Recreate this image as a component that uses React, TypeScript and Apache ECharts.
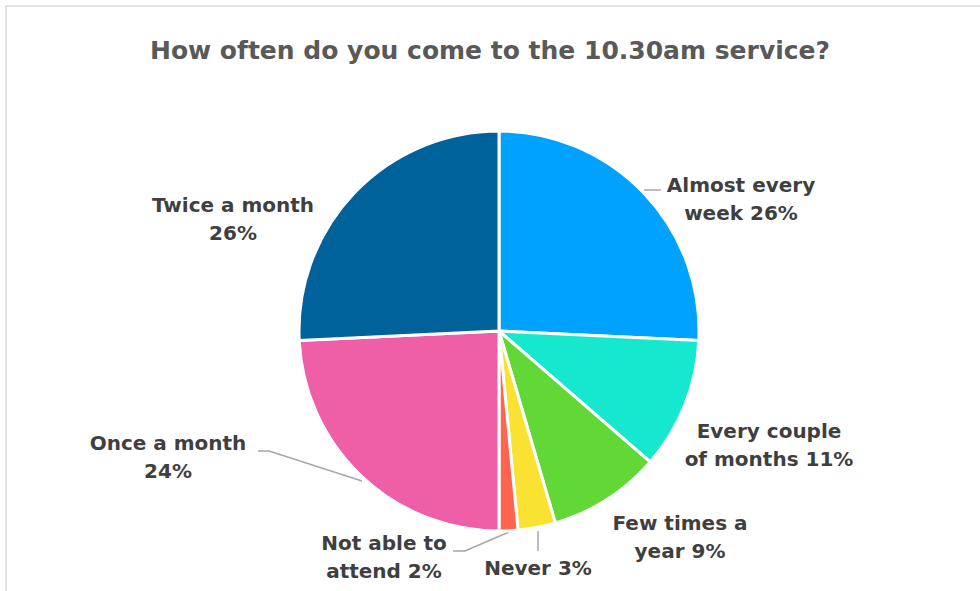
import React, { useEffect, useRef } from "react";
import * as echarts from "echarts";

const TITLE = "How often do you come to the 10.30am service?";
const categories = [
  "Almost every week",
  "Every couple of months",
  "Few times a year",
  "Never",
  "Not able to attend",
  "Once a month",
  "Twice a month",
];
// respondent counts (percentages shown in labels are derived from these)
const counts = [17, 7, 6, 2, 1, 16, 17];
const labelTemplates = [
  "Almost every\nweek {p}%",
  "Every couple\nof months {p}%",
  "Few times a\nyear {p}%",
  "Never {p}%",
  "Not able to\nattend {p}%",
  "Once a month\n{p}%",
  "Twice a month\n{p}%",
];
const colors = ["#00A2FF", "#16E7CF", "#61D836", "#FAE232", "#FF644E", "#EF5FA7", "#00629B"];

// label placement (layout, not data): centre x, centre y of text block, leader line
const labelPlacement: { x: number; y: number; line?: number[][] }[] = [
  { x: 741, y: 199, line: [[644, 190], [661, 190]] },
  { x: 769, y: 445 },
  { x: 680, y: 537 },
  { x: 538, y: 568, line: [[538, 551], [538, 531]] },
  { x: 384, y: 557, line: [[453, 551], [465, 551], [509, 532]] },
  { x: 168, y: 457, line: [[258, 451], [269, 451], [362, 481]] },
  { x: 233, y: 219 },
];

export default function App() {
  const ref = useRef<HTMLDivElement>(null);
  useEffect(() => {
    if (!ref.current) return;
    const chart = echarts.init(ref.current, undefined, { renderer: "svg" });
    const data = categories.map((name, i) => ({
      name,
      value: counts[i],
      itemStyle: { color: colors[i] },
      labelLine: { show: !!labelPlacement[i].line },
    }));
    chart.setOption({
      animation: false,
      backgroundColor: "#ffffff",
      textStyle: { fontFamily: "DejaVu Sans" },
      title: {
        text: TITLE,
        left: "center",
        top: 33,
        textStyle: {
          fontFamily: "DejaVu Sans",
          fontSize: 25,
          fontWeight: "bold",
          color: "#595959",
        },
      },
      graphic: [
        {
          type: "rect",
          shape: { x: 6, y: 6, width: 1100, height: 1100 },
          style: { fill: "none", stroke: "#d9d9d9", lineWidth: 1.5 },
          silent: true,
        },
      ],
      series: [
        {
          type: "pie",
          center: [499, 331],
          radius: 200,
          startAngle: 90,
          clockwise: true,
          data,
          itemStyle: { borderColor: "#ffffff", borderWidth: 3 },
          label: {
            show: true,
            position: "outside",
            fontFamily: "DejaVu Sans",
            fontSize: 20,
            fontWeight: "bold",
            color: "#3f3f3f",
            lineHeight: 28,
            align: "center",
            formatter: (p: any) =>
              labelTemplates[p.dataIndex].replace("{p}", String(Math.round(p.percent))),
          },
          labelLine: {
            show: true,
            lineStyle: { color: "#a6a6a6", width: 1.5 },
          },
          labelLayout: (params: any) => {
            const lp = labelPlacement[params.dataIndex];
            const out: any = {
              x: lp.x,
              y: lp.y,
              align: "center",
              verticalAlign: "middle",
            };
            if (lp.line) out.labelLinePoints = lp.line;
            return out;
          },
        },
      ],
    });
    return () => chart.dispose();
  }, []);
  return (
    <div
      ref={ref}
      style={{ position: "absolute", left: 0, top: 0, width: 980, height: 591 }}
    />
  );
}
